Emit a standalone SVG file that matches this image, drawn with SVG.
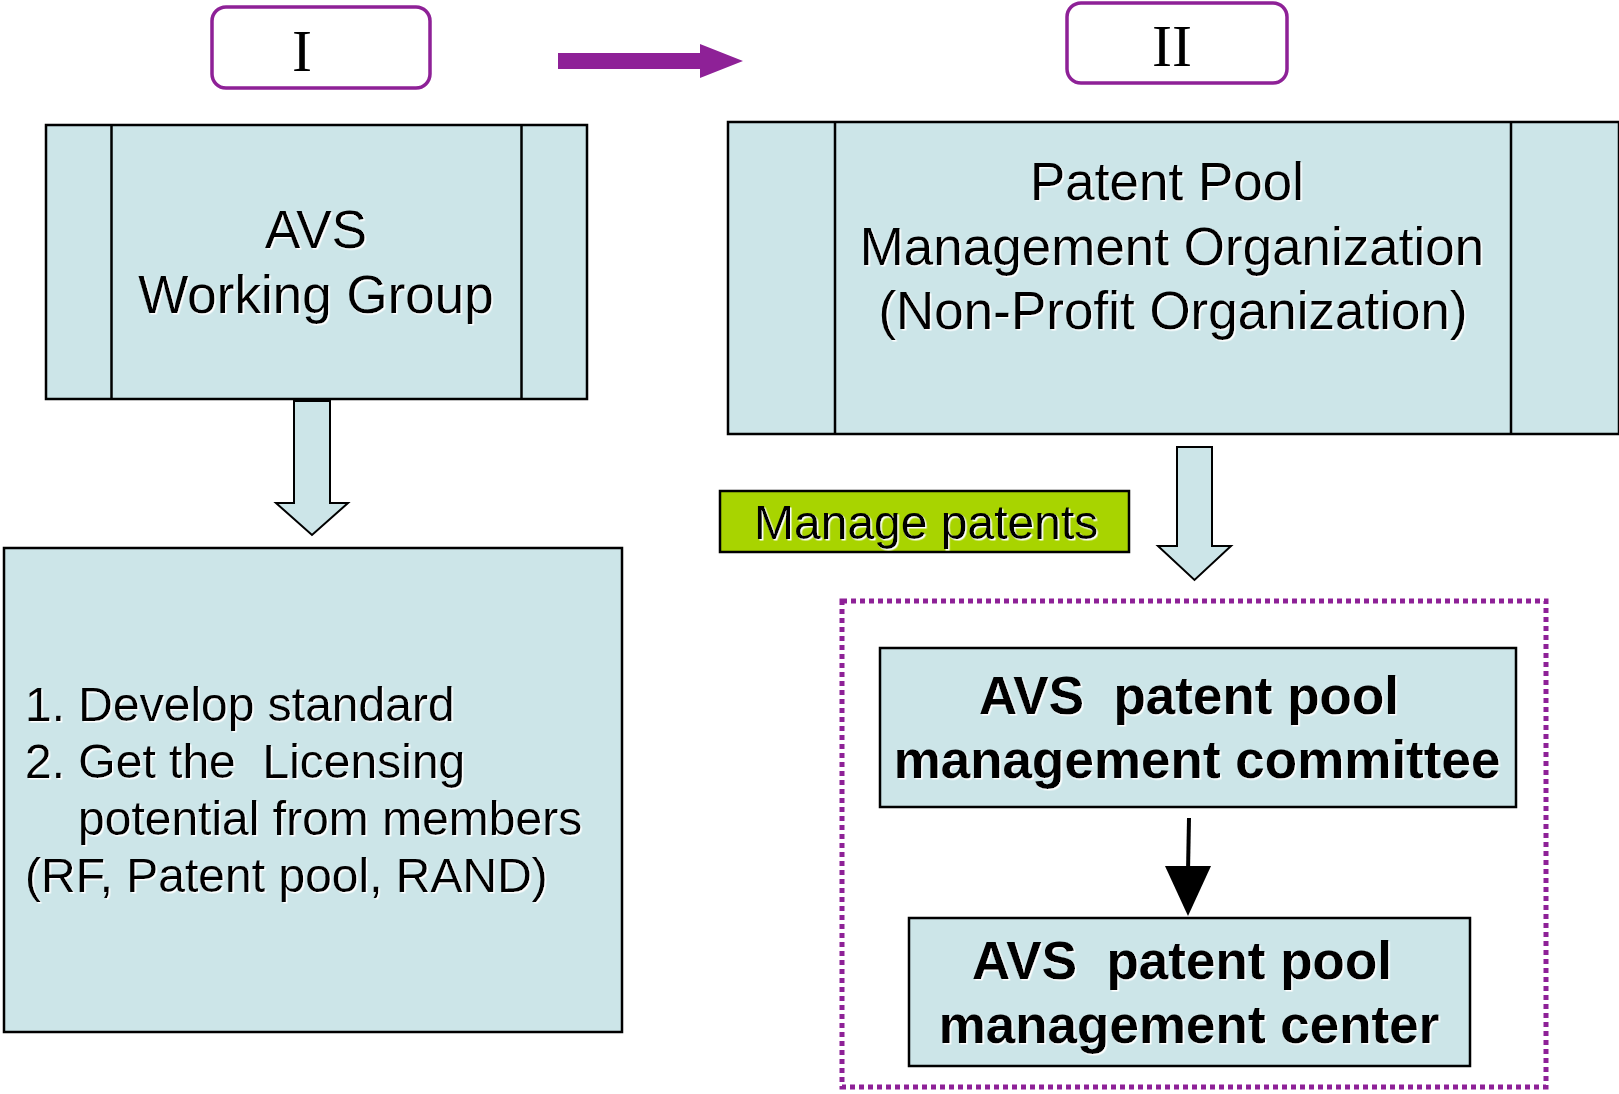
<svg xmlns="http://www.w3.org/2000/svg" width="1619" height="1094" viewBox="0 0 1619 1094">
<style>
.box{fill:#CCE5E8;stroke:#000;stroke-width:2.5}
.ln{stroke:#000;stroke-width:2.5;fill:none}
.tag{fill:#fff;stroke:#8E2197;stroke-width:3.5}
.t{font-family:"Liberation Sans",Arial,sans-serif;fill:#000;filter:url(#sh);white-space:pre}
.c{text-anchor:middle}
.b{font-weight:bold}
.rn{font-family:"Liberation Serif","Times New Roman",serif;font-size:60px;text-anchor:middle;fill:#000}
.hollow{fill:#CCE5E8;stroke:#000;stroke-width:2}
</style>
<defs>
<filter id="sh" x="-5%" y="-5%" width="110%" height="120%">
<feDropShadow dx="1.5" dy="1.5" stdDeviation="0" flood-color="#fff" flood-opacity="1"/>
</filter>
</defs>

<g id="tag1">
<rect class="tag" x="212" y="7" width="218" height="81" rx="14"/>
<text class="rn" x="302" y="71">I</text>
</g>

<g id="tag2">
<rect class="tag" x="1067" y="3" width="220" height="80" rx="14"/>
<text class="rn" x="1172" y="66">II</text>
</g>

<g id="wg">
<rect class="box" x="46" y="125" width="541" height="274"/>
<line class="ln" x1="111.5" y1="125" x2="111.5" y2="399"/>
<line class="ln" x1="521.5" y1="125" x2="521.5" y2="399"/>
<text class="t c" x="316" y="248" font-size="53">AVS</text>
<text class="t c" x="316" y="313" font-size="53">Working Group</text>
</g>

<g id="tasks">
<rect class="box" x="4" y="548" width="618" height="484"/>
<text class="t" x="25" y="721" font-size="48">1. Develop standard</text>
<text class="t" x="25" y="778" font-size="48" xml:space="preserve">2. Get the  Licensing</text>
<text class="t" x="78" y="835" font-size="48">potential from members</text>
<text class="t" x="25" y="892" font-size="48">(RF, Patent pool, RAND)</text>
</g>

<g id="ppmo">
<rect class="box" x="728" y="122" width="891" height="312"/>
<line class="ln" x1="835" y1="122" x2="835" y2="434"/>
<line class="ln" x1="1511" y1="122" x2="1511" y2="434"/>
<text class="t c" x="1167" y="200" font-size="53">Patent Pool</text>
<text class="t c" x="1172" y="265" font-size="53">Management Organization</text>
<text class="t c" x="1173" y="329" font-size="53">(Non-Profit Organization)</text>
</g>

<g id="manage">
<rect x="720" y="491" width="409" height="61" fill="#A8D400" stroke="#000" stroke-width="2.5"/>
<text class="t" x="754" y="539" font-size="48">Manage patents</text>
</g>

<g id="group">
<rect x="842" y="601" width="704" height="486" fill="none" stroke="#8E2197" stroke-width="5" stroke-dasharray="5 4"/>
</g>

<g id="committee">
<rect class="box" x="880" y="648" width="636" height="159"/>
<text class="t c b" x="1189" y="714" font-size="53" xml:space="preserve">AVS  patent pool</text>
<text class="t c b" x="1197" y="778" font-size="53">management committee</text>
</g>

<g id="center">
<rect class="box" x="909" y="918" width="561" height="148"/>
<text class="t c b" x="1182" y="979" font-size="53" xml:space="preserve">AVS  patent pool</text>
<text class="t c b" x="1189" y="1043" font-size="53">management center</text>
</g>

<g id="connectors">
<path d="M558,53 H700 V44 L743,61 L700,78 V69 H558 Z" fill="#8E2197"/>
<path class="hollow" d="M294,401 H330 V503 H348 L312,535 L276,503 H294 Z"/>
<path class="hollow" d="M1177,447 H1212 V546 H1231 L1194.5,580 L1158,546 H1177 Z"/>
<line x1="1189" y1="818" x2="1188" y2="872" stroke="#000" stroke-width="4"/>
<path d="M1165,866 H1211 L1188,916 Z" fill="#000"/>
</g>
</svg>
